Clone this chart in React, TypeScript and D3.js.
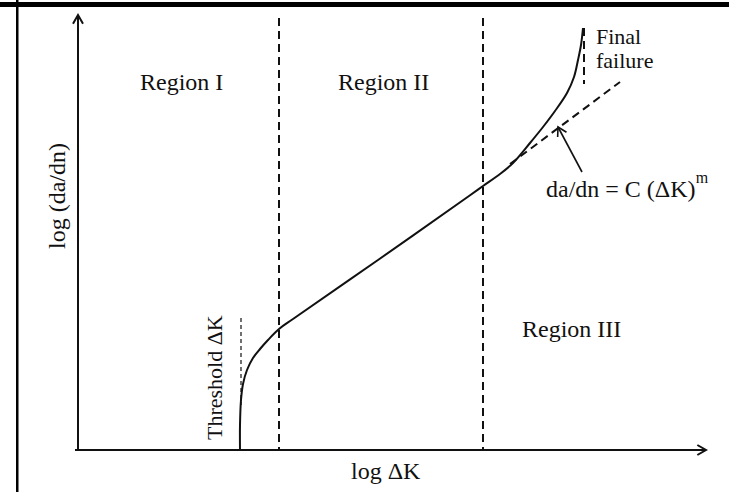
import * as d3 from "d3";

// curve of log(da/dn) vs log ΔK (arbitrary units)
const curveX = [162, 162, 163, 165, 169, 175, 182, 190, 201, 215, 300, 391, 405, 422, 435, 452, 465, 477, 489, 496, 500, 503, 505];
const curveY = [0, 25, 50, 66, 80, 92, 101, 110, 121, 131, 190, 254, 264, 276, 287, 307, 323, 339, 357, 373, 390, 405, 422];

const regionBounds = [201, 405];
const regionTop = 432;
const threshold = { x: 163, y0: 45, y1: 132 };
const finalFailure = { x: 506, y0: 366, y1: 422 };
const tangent = [
  [432, 286],
  [542, 368],
];
const pointer = [
  [504, 278],
  [480, 323],
];

const regionLabels = ["Region I", "Region II", "Region III"];
const regionLabelX = [62, 260, 444];
const regionLabelY = [360, 360, 113];

const width = 729;
const height = 492;
const font = "'Liberation Serif', 'Times New Roman', serif";

function chevron(tip: [number, number], from: [number, number], len = 9) {
  const a = Math.atan2(from[1] - tip[1], from[0] - tip[0]);
  const s = Math.PI / 6;
  const p1 = [tip[0] + len * Math.cos(a + s), tip[1] + len * Math.sin(a + s)];
  const p2 = [tip[0] + len * Math.cos(a - s), tip[1] + len * Math.sin(a - s)];
  return `M${p1[0]},${p1[1]}L${tip[0]},${tip[1]}L${p2[0]},${p2[1]}`;
}

function App() {
  const x = d3.scaleLinear().domain([0, 628]).range([78, 706]);
  const y = d3.scaleLinear().domain([0, 435]).range([450, 15]);

  const data = curveX.map((v, i) => [v, curveY[i]] as [number, number]);
  const line = d3
    .line<[number, number]>()
    .x((d) => x(d[0]))
    .y((d) => y(d[1]))
    .curve(d3.curveCatmullRom.alpha(0.5));

  const ptTip: [number, number] = [x(pointer[1][0]), y(pointer[1][1])];
  const ptFrom: [number, number] = [x(pointer[0][0]), y(pointer[0][1])];

  return (
    <svg
      width={width}
      height={height}
      style={{ position: "absolute", left: 0, top: 0, background: "#fff" }}
      fontFamily={font}
      fill="#111"
    >
      {/* page frame */}
      <rect x={0} y={2} width={width} height={5} fill="#000" />
      <rect x={16} y={0} width={2.5} height={height} fill="#000" />

      {/* axes */}
      <g stroke="#111" strokeWidth={2} fill="none">
        <line x1={x(-3)} y1={y(0)} x2={x(628)} y2={y(0)} />
        <line x1={x(0)} y1={y(0)} x2={x(0)} y2={y(435)} />
        <path d={chevron([x(628), y(0)], [x(600), y(0)], 10)} />
        <path d={chevron([x(0), y(435)], [x(0), y(400)], 10)} />
      </g>

      {/* region boundaries */}
      <g stroke="#111" strokeWidth={2} strokeDasharray="8 5" fill="none">
        {regionBounds.map((b) => (
          <line key={b} x1={x(b)} y1={y(regionTop)} x2={x(b)} y2={y(0)} />
        ))}
        <line
          x1={x(finalFailure.x)}
          y1={y(finalFailure.y1)}
          x2={x(finalFailure.x)}
          y2={y(finalFailure.y0)}
        />
        <line
          x1={x(tangent[0][0])}
          y1={y(tangent[0][1])}
          x2={x(tangent[1][0])}
          y2={y(tangent[1][1])}
        />
      </g>
      <line
        x1={x(threshold.x)}
        y1={y(threshold.y1)}
        x2={x(threshold.x)}
        y2={y(threshold.y0)}
        stroke="#111"
        strokeWidth={1.2}
        strokeDasharray="4 3"
      />

      {/* crack growth curve */}
      <path d={line(data) ?? ""} fill="none" stroke="#111" strokeWidth={2} />

      {/* pointer arrow */}
      <g stroke="#111" strokeWidth={1.6} fill="none">
        <line x1={ptFrom[0]} y1={ptFrom[1]} x2={ptTip[0]} y2={ptTip[1]} />
        <path d={chevron(ptTip, ptFrom, 10)} />
      </g>

      {/* labels */}
      <g fontSize={24}>
        {regionLabels.map((t, i) => (
          <text key={t} x={x(regionLabelX[i])} y={y(regionLabelY[i])}>
            {t}
          </text>
        ))}
        <text x={351} y={479}>log ΔK</text>
        <text transform="translate(65,196) rotate(-90)" textAnchor="middle">
          log (da/dn)
        </text>
        <text transform="translate(222,440) rotate(-90)" fontSize={22}>
          Threshold ΔK
        </text>
        <text x={596} y={44} fontSize={22}>Final</text>
        <text x={596} y={68} fontSize={22}>failure</text>
        <text x={546} y={197}>
          da/dn = C (ΔK)
          <tspan fontSize={16} dy={-14}>m</tspan>
        </text>
      </g>
    </svg>
  );
}

export default App;
